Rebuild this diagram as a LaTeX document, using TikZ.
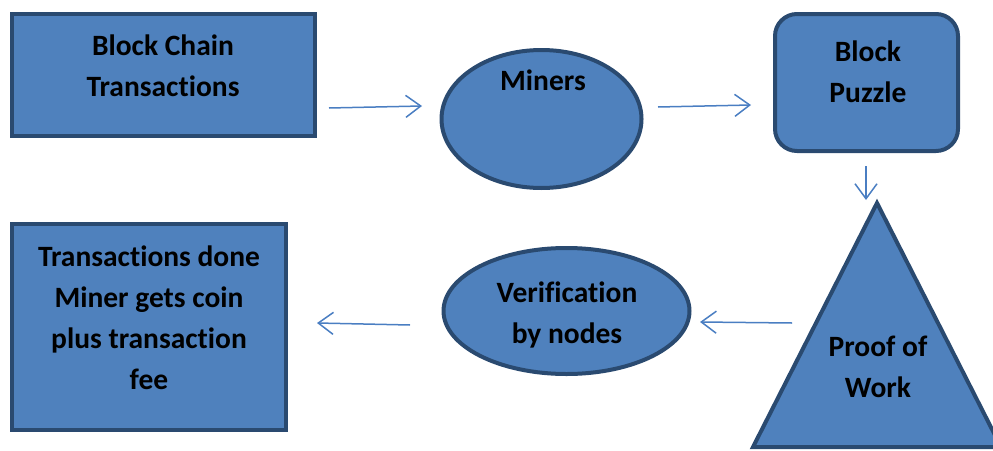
\documentclass[tikz,border=0pt]{standalone}
\usepackage{fontspec}
\setmainfont{Carlito}[Ligatures=NoCommon]
\usetikzlibrary{arrows.meta,shapes.geometric}
\definecolor{boxfill}{HTML}{4F81BD}
\definecolor{boxedge}{HTML}{2A4A70}
\definecolor{flowblue}{HTML}{4A7EC2}
\tikzset{
  shapebox/.style={draw=boxedge, fill=boxfill, line width=4pt},
  label/.style={font=\bfseries\fontsize{29.5}{41}\selectfont, align=center, text=black, inner sep=0pt},
  flow/.style={draw=flowblue, line width=1.5pt, -{Straight Barb[length=15pt,width=22pt,line width=1.5pt]}}
}
\begin{document}
\begin{tikzpicture}[x=1pt,y=-1pt]
\useasboundingbox (0,0) rectangle (993,450);

% shapes
\draw[shapebox] (12,14) rectangle (315,136);
\draw[shapebox] (541.5,119) ellipse [x radius=100, y radius=69];
\draw[shapebox, rounded corners=22pt] (775,14) rectangle (958,151);
\coordinate (apex) at (877,203);
\coordinate (baseL) at (753,447);
\coordinate (baseR) at (1001,447);
\draw[shapebox, line join=miter] (apex) -- (baseR) -- (baseL) -- cycle;
\draw[shapebox] (566.5,311) ellipse [x radius=123, y radius=63];
\draw[shapebox] (12,224) rectangle (286,430);

% labels
\node[label] (chain) at (163,66) {Block Chain\\Transactions};
\node[label] (miners) at (543,80) {Miners};
\node[label] (puzzle) at (868,72) {Block\\Puzzle};
\node[label] (pow) at (878,367) {Proof of\\Work};
\node[label] (verify) at (567,315) {Verification\\by nodes};
\node[label] (done) at (149,318) {Transactions done\\Miner gets coin\\plus transaction\\fee};

% connector end points
\coordinate (a1s) at (329,108); \coordinate (a1e) at (422,106);
\coordinate (a2s) at (658,107); \coordinate (a2e) at (751,105);
\coordinate (a3s) at (866,166); \coordinate (a3e) at (866,200);
\coordinate (a4s) at (792,323); \coordinate (a4e) at (700,322);
\coordinate (a5s) at (410,325); \coordinate (a5e) at (317,323);

\draw[flow] (a1s) -- (a1e);
\draw[flow] (a2s) -- (a2e);
\draw[flow] (a3s) -- (a3e);
\draw[flow] (a4s) -- (a4e);
\draw[flow] (a5s) -- (a5e);
\end{tikzpicture}
\end{document}
